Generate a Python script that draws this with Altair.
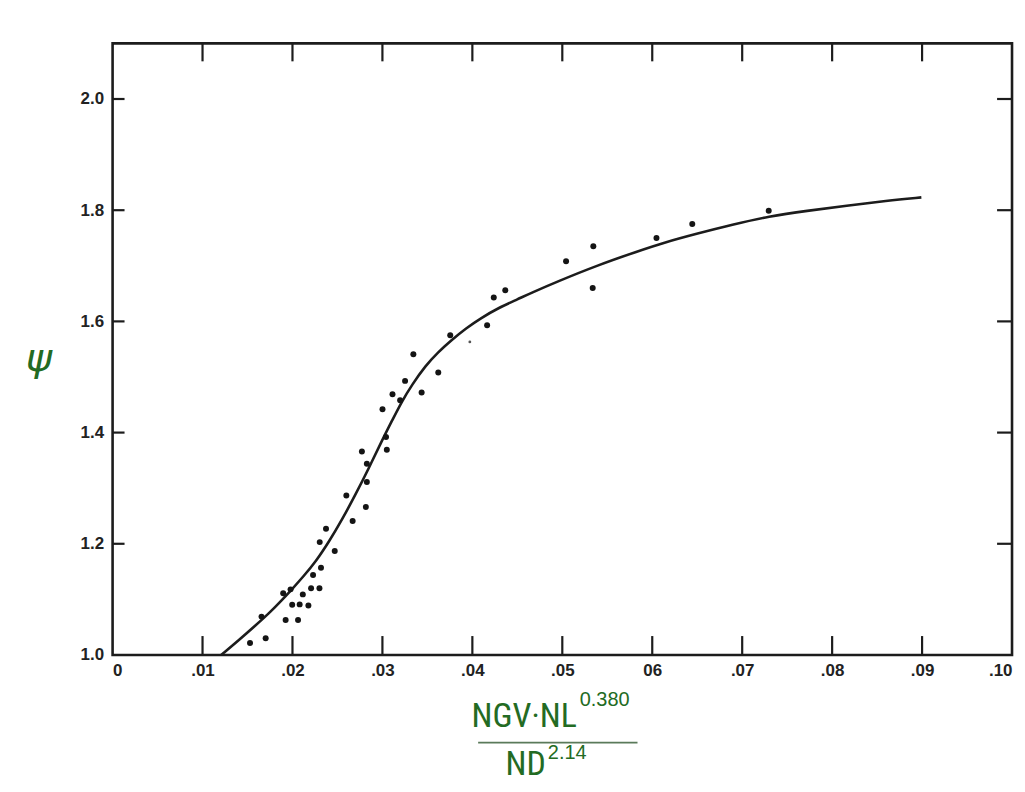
import altair as alt
import pandas as pd

# ---- data ----
pt_x = [0.01528, 0.01702, 0.01656, 0.01924, 0.02062, 0.01897, 0.01979, 0.02115,
        0.01997, 0.02080, 0.02177, 0.02207, 0.02300, 0.02229, 0.02317, 0.02470,
        0.02303, 0.02373, 0.02669, 0.02599, 0.02816, 0.02827, 0.02827, 0.02772,
        0.03049, 0.03040, 0.03001, 0.03112, 0.03197, 0.03252, 0.03344, 0.03436,
        0.03621, 0.03754, 0.04164, 0.04238, 0.04366, 0.05042, 0.05345, 0.05338,
        0.06047, 0.06445, 0.07295]
pt_y = [1.0215, 1.030, 1.069, 1.063, 1.063, 1.111, 1.118, 1.109,
        1.0905, 1.091, 1.089, 1.120, 1.120, 1.144, 1.157, 1.187,
        1.203, 1.227, 1.241, 1.287, 1.266, 1.311, 1.344, 1.366,
        1.369, 1.392, 1.442, 1.469, 1.458, 1.493, 1.541, 1.472,
        1.508, 1.575, 1.593, 1.643, 1.656, 1.708, 1.735, 1.660,
        1.750, 1.775, 1.799]
faint_x = [0.03972]
faint_y = [1.563]

curve_x = [0.01207, 0.01406, 0.01595, 0.01739, 0.01860, 0.01982, 0.02126, 0.02259,
           0.02403, 0.02547, 0.02702, 0.02846, 0.02990, 0.03112, 0.03212, 0.03333,
           0.03477, 0.03621, 0.03765, 0.03931, 0.04097, 0.04286, 0.04507, 0.04651,
           0.04950, 0.05393, 0.05836, 0.06135, 0.06501, 0.06888, 0.07298, 0.07719,
           0.08162, 0.08605, 0.08992]
curve_y = [1.000, 1.027, 1.054, 1.075, 1.095, 1.116, 1.142, 1.168,
           1.203, 1.242, 1.289, 1.335, 1.384, 1.423, 1.455, 1.487,
           1.520, 1.545, 1.566, 1.588, 1.606, 1.624, 1.640, 1.651,
           1.672, 1.701, 1.726, 1.742, 1.758, 1.774, 1.789, 1.799,
           1.808, 1.817, 1.823]

x_tick_values = [0, 0.01, 0.02, 0.03, 0.04, 0.05, 0.06, 0.07, 0.08, 0.09, 0.10]
x_tick_labels = ["0", ".01", ".02", ".03", ".04", ".05", "06", ".07", ".08", ".09", ".10"]
x_inner_ticks = [0.01, 0.02, 0.03, 0.04, 0.05, 0.06, 0.07, 0.08, 0.09]
y_tick_values = [1.0, 1.2, 1.4, 1.6, 1.8, 2.0]
y_tick_labels = ["1.0", "1.2", "1.4", "1.6", "1.8", "2.0"]
y_inner_ticks = [1.2, 1.4, 1.6, 1.8, 2.0]

y_title = "ψ"
num_text = "NGV·NL"
num_exp = "0.380"
den_text = "ND"
den_exp = "2.14"

# ---- styling ----
W, H = 903, 614
INK = "#1c1c1c"
GREEN = "#236b23"
LABEL_FONT = "Liberation Sans"
NARROW = "Liberation Sans Narrow, Arial Narrow, Roboto Condensed, Roboto"

xs = alt.Scale(domain=[0, 0.10], nice=False, zero=False)
ys = alt.Scale(domain=[1.0, 2.1], nice=False, zero=False)

x_expr = "[" + ",".join("'%s'" % l for l in x_tick_labels) + "][round(datum.value*100)]"
y_expr = "[" + ",".join("'%s'" % l for l in y_tick_labels) + "][round((datum.value-1)*5)]"

x_axis = alt.Axis(values=x_tick_values, labelExpr=x_expr, ticks=False, domain=False,
                  grid=False, labelPadding=8, labelFont=LABEL_FONT, labelFontSize=17,
                  labelFontWeight="bold", labelColor="#222", title=None, labelFlush=True)
y_axis = alt.Axis(values=y_tick_values, labelExpr=y_expr, ticks=False, domain=False,
                  grid=False, labelPadding=9, labelFont=LABEL_FONT, labelFontSize=17,
                  labelFontWeight="bold", labelColor="#222", title=None, labelFlush=False)

pts = pd.DataFrame({"x": pt_x, "y": pt_y})
faint = pd.DataFrame({"x": faint_x, "y": faint_y})
curve = pd.DataFrame({"x": curve_x, "y": curve_y})
xt = pd.DataFrame({"x": x_inner_ticks})
yt = pd.DataFrame({"y": y_inner_ticks})

points = alt.Chart(pts).mark_circle(size=36, color="#141414", opacity=1).encode(
    x=alt.X("x:Q", scale=xs, axis=x_axis), y=alt.Y("y:Q", scale=ys, axis=y_axis))
faint_pts = alt.Chart(faint).mark_circle(size=8, color="#555", opacity=1).encode(
    x=alt.X("x:Q", scale=xs, axis=x_axis), y=alt.Y("y:Q", scale=ys, axis=y_axis))
line = alt.Chart(curve).mark_line(interpolate="basis", color=INK, strokeWidth=2.6).encode(
    x=alt.X("x:Q", scale=xs, axis=x_axis), y=alt.Y("y:Q", scale=ys, axis=y_axis))

bottom_ticks = alt.Chart(xt).mark_rule(color=INK, strokeWidth=2.2).encode(
    x=alt.X("x:Q", scale=xs, axis=x_axis), y=alt.value(H), y2=alt.value(H - 19))
top_ticks = alt.Chart(xt).mark_rule(color=INK, strokeWidth=2.2).encode(
    x=alt.X("x:Q", scale=xs, axis=x_axis), y=alt.value(0), y2=alt.value(18))
left_ticks = alt.Chart(yt).mark_rule(color=INK, strokeWidth=2.2).encode(
    y=alt.Y("y:Q", scale=ys, axis=y_axis), x=alt.value(0), x2=alt.value(12))
right_ticks = alt.Chart(yt).mark_rule(color=INK, strokeWidth=2.2).encode(
    y=alt.Y("y:Q", scale=ys, axis=y_axis), x=alt.value(W), x2=alt.value(W - 15))

psi = alt.Chart().mark_text(text=y_title, font="DejaVu Sans", fontSize=40, fontStyle="italic",
                            color=GREEN, align="center", baseline="middle").encode(
    x=alt.value(-74), y=alt.value(317))
num = alt.Chart().mark_text(text=num_text, font=NARROW, fontSize=34, color=GREEN,
                            align="right", baseline="alphabetic").encode(
    x=alt.value(466), y=alt.value(686))
num_e = alt.Chart().mark_text(text=num_exp, font="Liberation Sans", fontSize=20, color=GREEN,
                              align="left", baseline="alphabetic").encode(
    x=alt.value(469), y=alt.value(665))
frac = alt.Chart().mark_rule(color="#5a7a5a", strokeWidth=1.8).encode(
    x=alt.value(367), x2=alt.value(527), y=alt.value(702))
den = alt.Chart().mark_text(text=den_text, font=NARROW, fontSize=34, color=GREEN,
                            align="right", baseline="alphabetic").encode(
    x=alt.value(435), y=alt.value(735))
den_e = alt.Chart().mark_text(text=den_exp, font="Liberation Sans", fontSize=20, color=GREEN,
                              align="left", baseline="alphabetic").encode(
    x=alt.value(437), y=alt.value(718))

chart = alt.layer(
    line, points, faint_pts, bottom_ticks, top_ticks, left_ticks, right_ticks,
    psi, num, num_e, frac, den, den_e
).properties(
    width=W, height=H,
    padding={"left": 105, "top": 34, "right": 5, "bottom": 130},
    autosize=alt.AutoSizeParams(type="none"),
    background="white",
).configure_view(stroke=INK, strokeWidth=2.6)

chart.save("out.html", embed_options={"renderer": "svg", "actions": False})
